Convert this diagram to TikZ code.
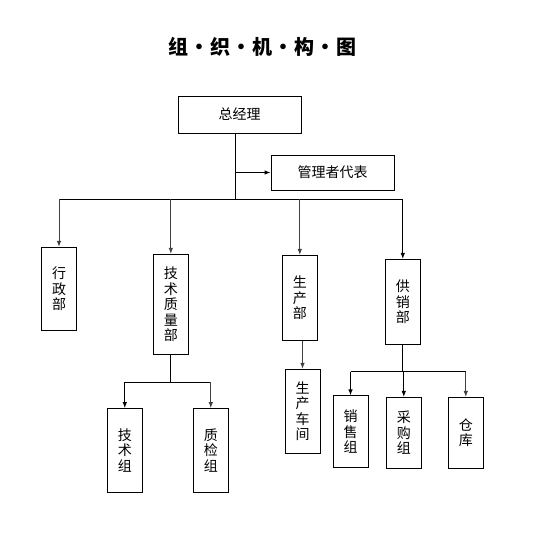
\documentclass[tikz,border=0pt]{standalone}
\usepackage{fontspec}
\setmainfont{Noto Sans CJK SC}
\usetikzlibrary{arrows.meta}

\tikzset{
  hbox/.style={draw,line width=0.8pt,minimum width=123pt,inner sep=0pt,font=\fontsize{14}{16}\selectfont},
  vbox/.style={draw,line width=0.8pt,minimum width=35pt,inner sep=0pt,align=center,font=\fontsize{14}{15.5}\selectfont},
  link/.style={line width=0.8pt},
  arr/.style={line width=0.9pt,-{Latex[length=6pt,width=4.5pt]}},
  garr/.style={arr,black!75}
}

\begin{document}
\begin{tikzpicture}[x=1pt,y=-1pt]
\useasboundingbox (0,0) rectangle (537,540);
\node[font=\fontsize{20}{22}\selectfont\bfseries] (title) at (262,47) {组\hspace{1pt}·\hspace{1pt}织\hspace{1pt}·\hspace{1pt}机\hspace{1pt}·\hspace{1pt}构\hspace{1pt}·\hspace{1pt}图};
% top level
\node[hbox,minimum height=37pt] (zjl) at (239.5,114.5) {总经理};
\node[hbox,minimum height=35pt] (glz) at (332.5,172.5) {管理者代表};
\coordinate (bus) at (235,199.3);
% departments
\node[vbox,minimum height=83pt] (xzb) at (59,288.8) {行\\政\\部};
\node[vbox,minimum height=100pt] (jszl) at (170.8,304.2) {技\\术\\质\\量\\部};
\node[vbox,minimum height=85pt] (scb) at (299.8,297.8) {生\\产\\部};
\node[vbox,minimum height=85pt] (gxb) at (402.8,301.8) {供\\销\\部};
% groups
\node[vbox,minimum height=84pt] (jsz) at (124.8,450.5) {技\\术\\组};
\node[vbox,minimum height=84pt] (zjz) at (210.8,450.5) {质\\检\\组};
\node[vbox,minimum height=84pt] (scj) at (302.5,411.3) {生\\产\\车\\间};
\node[vbox,minimum height=72pt] (xsz) at (350.5,431.8) {销\\售\\组};
\node[vbox,minimum height=71pt] (cgz) at (403.8,432.8) {采\\购\\组};
\node[vbox,minimum height=71pt] (ck) at (465.8,432.8) {仓\\库};
% connectors
\draw[link] (zjl.south -| bus) -- (bus);
\draw[arr] (glz.west -| bus) -- (glz.west);
\draw[link] (xzb.north |- bus) -- (gxb.north |- bus);
\draw[garr] (xzb.north |- bus) -- (xzb.north);
\draw[garr] (jszl.north |- bus) -- (jszl.north);
\draw[garr] (scb.north |- bus) -- (scb.north);
\draw[arr] (gxb.north |- bus) -- (gxb.north);
\coordinate (jbus) at (170.8,382);
\draw[link] (jszl.south) -- (jbus);
\draw[link] (jsz.north |- jbus) -- (zjz.north |- jbus);
\draw[arr] (jsz.north |- jbus) -- (jsz.north);
\draw[garr] (zjz.north |- jbus) -- (zjz.north);
\draw[garr] (scb.south -| scj.north) -- (scj.north);
\coordinate (gbus) at (402.8,371.7);
\draw[link] (gxb.south) -- (gbus);
\draw[link] (xsz.north |- gbus) -- (ck.north |- gbus);
\draw[arr] (xsz.north |- gbus) -- (xsz.north);
\draw[arr] (cgz.north |- gbus) -- (cgz.north);
\draw[garr] (ck.north |- gbus) -- (ck.north);
\end{tikzpicture}
\end{document}
